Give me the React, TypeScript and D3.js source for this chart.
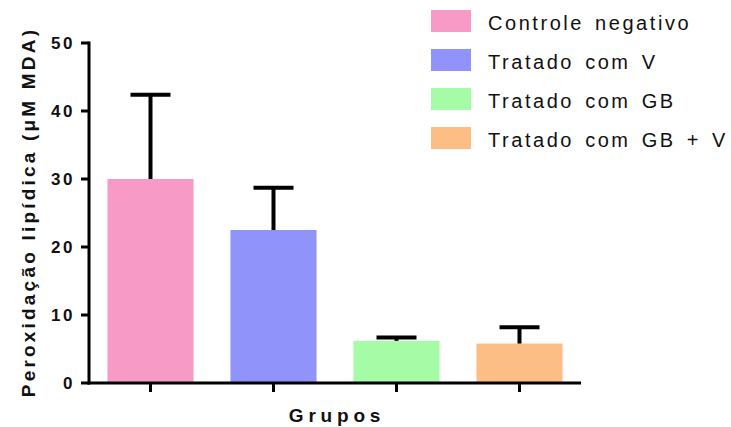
import * as d3 from "d3";

const groups = ["Controle negativo", "Tratado com V", "Tratado com GB", "Tratado com GB + V"];
const means = [30.0, 22.5, 6.2, 5.8];
const errors = [12.4, 6.2, 0.5, 2.4];
const colors = ["#F79AC5", "#8F93FA", "#A6FCA6", "#FDBE85"];
const yTicks = [0, 10, 20, 30, 40, 50];

const width = 731;
const height = 427;
const marginLeft = 89;
const marginRight = 150;
const marginTop = 43;
const marginBottom = 44;

export default function App() {
  const x = d3
    .scaleBand<string>()
    .domain(groups)
    .range([marginLeft, width - marginRight])
    .paddingInner(0.3)
    .paddingOuter(0.15);
  const y = d3.scaleLinear([0, 50], [height - marginBottom, marginTop]);
  const font = "'Liberation Sans', Arial, sans-serif";
  const capW = 40;

  return (
    <svg
      width={width}
      height={height}
      style={{ position: "absolute", left: 0, top: 0, background: "white" }}
      fontFamily={font}
    >
      {/* bars */}
      {groups.map((g, i) => (
        <rect
          key={g}
          x={x(g)}
          y={y(means[i])}
          width={x.bandwidth()}
          height={y(0) - y(means[i])}
          fill={colors[i]}
        />
      ))}

      {/* error bars (upper only) */}
      {groups.map((g, i) => {
        const cx = (x(g) ?? 0) + x.bandwidth() / 2;
        const top = y(means[i] + errors[i]);
        return (
          <g key={`err-${g}`} stroke="black" strokeWidth={4}>
            <line x1={cx} x2={cx} y1={y(means[i])} y2={top} />
            <line x1={cx - capW / 2} x2={cx + capW / 2} y1={top} y2={top} />
          </g>
        );
      })}

      {/* y axis */}
      <line x1={marginLeft} x2={marginLeft} y1={y(50) - 1.5} y2={y(0) + 1.5} stroke="black" strokeWidth={3} />
      {yTicks.map((t) => (
        <g key={t}>
          <line x1={marginLeft - 8} x2={marginLeft} y1={y(t)} y2={y(t)} stroke="black" strokeWidth={3} />
          <text
            x={75}
            y={y(t)}
            dy="0.36em"
            textAnchor="end"
            fontSize={17}
            fontWeight="bold"
            letterSpacing={2.5}
            fill="#111"
          >
            {t}
          </text>
        </g>
      ))}

      {/* x axis */}
      <line x1={marginLeft - 1.5} x2={width - marginRight} y1={y(0)} y2={y(0)} stroke="black" strokeWidth={3} />
      {groups.map((g) => {
        const cx = (x(g) ?? 0) + x.bandwidth() / 2;
        return <line key={`xt-${g}`} x1={cx} x2={cx} y1={y(0)} y2={y(0) + 9} stroke="black" strokeWidth={3} />;
      })}

      <text
        x={(marginLeft + width - marginRight) / 2 + 2}
        y={422}
        textAnchor="middle"
        fontSize={19}
        fontWeight="bold"
        letterSpacing={4.8}
        fill="#111"
      >
        Grupos
      </text>

      <text
        transform={`translate(35,${(y(0) + y(50)) / 2 - 1}) rotate(-90)`}
        textAnchor="middle"
        fontSize={19}
        fontWeight="bold"
        letterSpacing={3.2}
        fill="#111"
      >
        Peroxidação lipídica (μM MDA)
      </text>

      {/* legend */}
      {groups.map((g, i) => {
        const cy = 21 + i * 39;
        return (
          <g key={`leg-${g}`}>
            <rect x={431} y={cy - 11} width={40} height={22} fill={colors[i]} />
            <text x={488} y={cy + 9} fontSize={20} letterSpacing={2.55} wordSpacing={3} fill="#111">
              {g}
            </text>
          </g>
        );
      })}
    </svg>
  );
}
